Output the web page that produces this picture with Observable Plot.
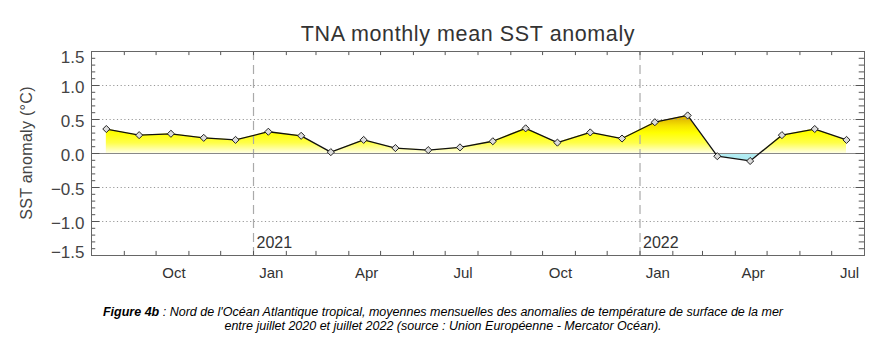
<!DOCTYPE html>
<html><head><meta charset="utf-8">
<script src="https://cdn.jsdelivr.net/npm/d3@7"></script>
<script src="https://cdn.jsdelivr.net/npm/@observablehq/plot@0.6"></script>
<style>
body{margin:0;background:#fff;width:886px;height:353px;position:relative;overflow:hidden;font-family:"Liberation Sans",Arial,sans-serif}
#chart{position:absolute;left:0;top:0}
#title{position:absolute;top:22px;left:468px;transform:translateX(-50%);white-space:nowrap;font-size:21.5px;color:#333;letter-spacing:0.6px}
#ylabel{position:absolute;left:27px;top:153px;transform:translate(-50%,-50%) rotate(-90deg);white-space:nowrap;font-size:16px;color:#444;letter-spacing:0.3px}
#caption{position:absolute;top:305px;left:0;width:886px;text-align:center;font-family:"Liberation Sans Narrow","Arial Narrow",sans-serif;font-stretch:condensed;font-style:italic;font-size:12.5px;line-height:14px;color:#000}
</style></head><body>
<div id="chart"></div>
<div id="title">TNA monthly mean SST anomaly</div>
<div id="ylabel">SST anomaly (°C)</div>
<div id="caption"><b>Figure 4b</b> : Nord de l'Océan Atlantique tropical, moyennes mensuelles des anomalies de température de surface de la mer<br>entre juillet 2020 et juillet 2022 (source : Union Européenne - Mercator Océan).</div>
<script>
const months = ["2020-08","2020-09","2020-10","2020-11","2020-12","2021-01","2021-02","2021-03","2021-04","2021-05","2021-06","2021-07","2021-08","2021-09","2021-10","2021-11","2021-12","2022-01","2022-02","2022-03","2022-04","2022-05","2022-06","2022-07"];
const anomalies = [0.36,0.27,0.29,0.23,0.20,0.32,0.26,0.02,0.20,0.08,0.05,0.09,0.18,0.37,0.16,0.31,0.22,0.46,0.56,-0.04,-0.11,0.27,0.36,0.20];
const monthTickMonths = ["2020-10","2021-01","2021-04","2021-07","2021-10","2022-01","2022-04","2022-07"];
const monthTickLabels = ["Oct","Jan","Apr","Jul","Oct","Jan","Apr","Jul"];
const yearLabels = ["2021","2022"];
const yTickValues = [-1.5,-1.0,-0.5,0.0,0.5,1.0,1.5];
const yTickLabels = ["\u22121.5","\u22121.0","\u22120.5","0.0","0.5","1.0","1.5"];
const gridValues = [-1.0,-0.5,0.5,1.0];

const parseM = d3.utcParse("%Y-%m");
const mid = m => d3.utcDay.offset(parseM(m), 14);
const data = months.map((m,i) => ({date: mid(m), v: anomalies[i]}));
const xStart = parseM("2020-08"), xEnd = parseM("2022-08");
const monthStarts = d3.utcMonth.range(d3.utcMonth.offset(xStart,1), xEnd);
const yearStarts = yearLabels.map(y => parseM(y + "-01"));
const minorY = d3.range(-15,16).map(d => d/10);
const majorY = yTickValues;
const tickLabelData = monthTickMonths.map((m,i) => ({date: mid(m), label: monthTickLabels[i]}));
const yLab = yTickValues.map((v,i) => ({v, label: yTickLabels[i]}));

const font = "Liberation Sans, Arial, sans-serif";
const chart = Plot.plot({
  width: 886, height: 290,
  marginLeft: 91, marginRight: 22, marginTop: 51, marginBottom: 35,
  style: {fontFamily: font, background: "#fff", overflow: "visible"},
  x: {type: "utc", domain: [xStart, xEnd], axis: null},
  y: {domain: [-1.5, 1.5], axis: null},
  marks: [
    Plot.areaY(data, {x: "date", y1: 0, y2: "v", fill: "url(#sstGrad)"}),
    Plot.ruleY(gridValues, {stroke: "#999", strokeDasharray: "1.2,2.5", strokeWidth: 1}),
    Plot.ruleX(yearStarts, {stroke: "#aaa", strokeDasharray: "9,5", strokeWidth: 1.2}),
    Plot.ruleY([0], {stroke: "#888", strokeWidth: 1.2}),
    Plot.line(data, {x: "date", y: "v", stroke: "#111", strokeWidth: 1.3}),
    Plot.dot(data, {x: "date", y: "v", symbol: "diamond2", r: 3.2, fill: "#dcdcdc", stroke: "#222", strokeWidth: 1}),
    Plot.ruleX(monthStarts, {y1: -1.5, y2: -1.44, stroke: "#555"}),
    Plot.ruleX(monthStarts, {y1: 1.5, y2: 1.44, stroke: "#555"}),
    Plot.ruleY(minorY, {x1: () => xStart, x2: () => d3.utcDay.offset(xStart, 4), stroke: "#555"}),
    Plot.ruleY(minorY, {x1: () => xEnd, x2: () => d3.utcDay.offset(xEnd, -5), stroke: "#555"}),
    Plot.ruleY(majorY, {x1: () => xStart, x2: () => d3.utcDay.offset(xStart, 8), stroke: "#555"}),
    Plot.ruleY(majorY, {x1: () => xEnd, x2: () => d3.utcDay.offset(xEnd, -8), stroke: "#555"}),
    Plot.frame({stroke: "#666", strokeWidth: 1}),
    Plot.text(yearStarts, {x: d => d, y: () => -1.31, text: (d,i) => yearLabels[i], textAnchor: "start", dx: 3, fontSize: 16, fill: "#333"}),
    Plot.text(tickLabelData, {x: "date", text: "label", frameAnchor: "bottom", dy: 18, dx: 3, lineAnchor: "middle", fontSize: 15, fill: "#333"}),
    Plot.text(yLab.filter(d => Math.abs(d.v) < 1.5), {y: "v", text: "label", frameAnchor: "left", dx: -7, dy: 2, textAnchor: "end", lineAnchor: "middle", fontSize: 17, fill: "#444"}),
    Plot.text(yLab.filter(d => d.v === 1.5), {y: "v", text: "label", frameAnchor: "left", dx: -7, dy: 6, textAnchor: "end", lineAnchor: "middle", fontSize: 17, fill: "#444"}),
    Plot.text(yLab.filter(d => d.v === -1.5), {y: "v", text: "label", frameAnchor: "left", dx: -7, dy: -3, textAnchor: "end", lineAnchor: "middle", fontSize: 17, fill: "#444"})
  ]
});

const ys = chart.scale("y");
const gTop = 0.6, gBot = -0.15;
const off = v => (gTop - v) / (gTop - gBot);
const stops = [
  [0.6, "#c49400"], [0.5, "#e2bc00"], [0.4, "#f6e400"], [0.3, "#ffff00"],
  [0.15, "#ffff4a"], [0.0, "#ffffe4"], [0.0, "#b6eef4"], [-0.15, "#a6e6ef"]
];
const ns = "http://www.w3.org/2000/svg";
const defs = document.createElementNS(ns, "defs");
const lg = document.createElementNS(ns, "linearGradient");
lg.setAttribute("id", "sstGrad");
lg.setAttribute("gradientUnits", "userSpaceOnUse");
lg.setAttribute("x1", 0); lg.setAttribute("x2", 0);
lg.setAttribute("y1", ys.apply(gTop)); lg.setAttribute("y2", ys.apply(gBot));
for (const [v, c] of stops) {
  const s = document.createElementNS(ns, "stop");
  s.setAttribute("offset", off(v));
  s.setAttribute("stop-color", c);
  lg.appendChild(s);
}
defs.appendChild(lg);
chart.insertBefore(defs, chart.firstChild);
document.getElementById("chart").appendChild(chart);
</script>
</body></html>
